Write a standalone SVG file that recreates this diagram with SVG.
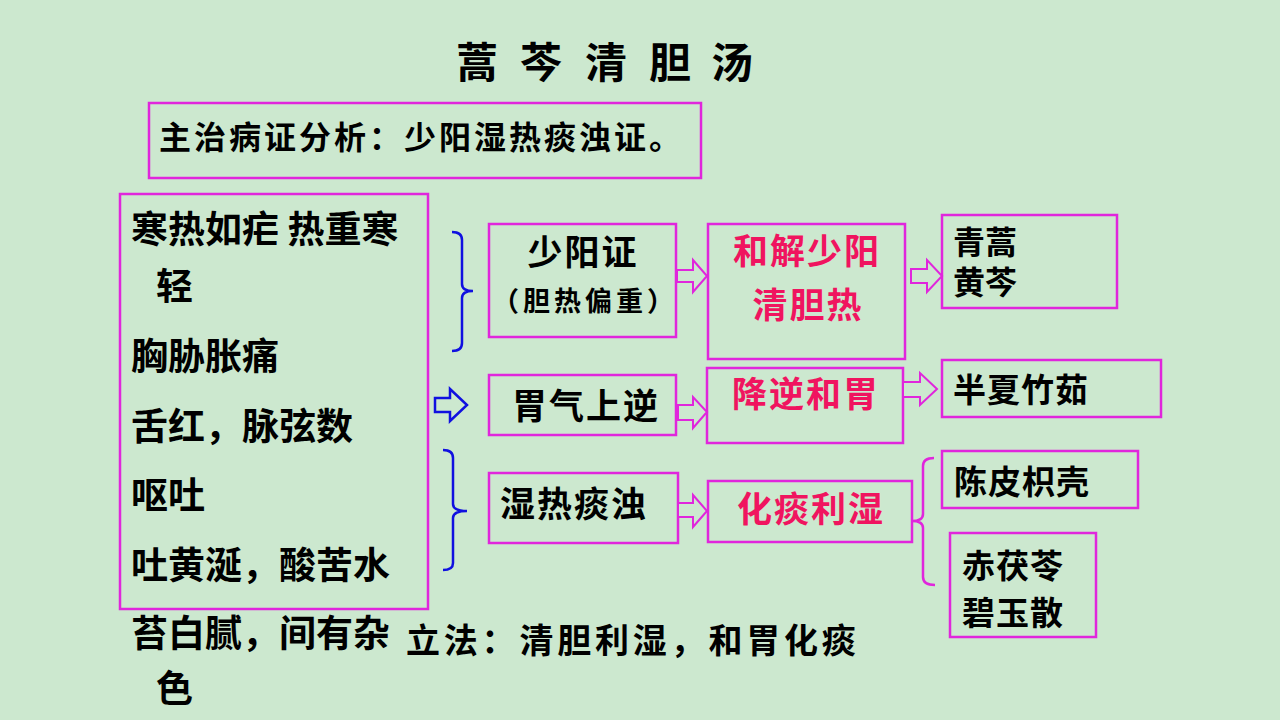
<svg xmlns="http://www.w3.org/2000/svg" width="1280" height="720" viewBox="0 0 1280 720">
<style>
.bg{fill:#cce8cf}
.box{fill:none;stroke:#e026dc;stroke-width:2.5}
.t{font-family:"Noto Sans CJK SC","Noto Sans CJK TC",sans-serif;font-weight:bold;fill:#000}
.r{fill:#f0145f}
.arw{fill:#cce8cf;stroke:#e026dc;stroke-width:2}
.barw{fill:#cce8cf;stroke:#1010e0;stroke-width:2.5}
.br{fill:none;stroke:#1010e0;stroke-width:2.5}
.brm{fill:none;stroke:#e026dc;stroke-width:2.5}
</style>
<rect class="bg" x="0" y="0" width="1280" height="720"/>
<g id="title">
<text class="t" font-size="42" y="78" x="456 0 520 0 585 0 649 0 711">蒿 芩 清 胆 汤</text>
</g>
<g id="main">
<rect class="box" x="149" y="103" width="552" height="75"/>
<text class="t" font-size="32" letter-spacing="3" x="159" y="149">主治病证分析：少阳湿热痰浊证。</text>
</g>
<g id="symptoms">
<rect class="box" x="120" y="194" width="308" height="415"/>
<text class="t" font-size="37" x="131" y="243">寒热如疟 热重寒</text>
<text class="t" font-size="37" x="156" y="300">轻</text>
<text class="t" font-size="37" x="131" y="370">胸胁胀痛</text>
<text class="t" font-size="37" x="131" y="440">舌红，脉弦数</text>
<text class="t" font-size="37" x="131" y="509">呕吐</text>
<text class="t" font-size="37" x="131" y="579">吐黄涎，酸苦水</text>
<text class="t" font-size="37" x="131" y="647">苔白腻，间有杂</text>
<text class="t" font-size="37" x="156" y="702">色</text>
</g>
<g id="lifa">
<text class="t" font-size="34" letter-spacing="3.8" x="406" y="653">立法：清胆利湿，和胃化痰</text>
</g>
<g id="shaoyang">
<rect class="box" x="489" y="224" width="187" height="113"/>
<text class="t" font-size="35" letter-spacing="2" x="583" y="265" text-anchor="middle">少阳证</text>
<text class="t" font-size="27" letter-spacing="4" x="585" y="311" text-anchor="middle">（胆热偏重）</text>
</g>
<g id="hejie">
<rect class="box" x="708" y="224" width="197" height="135"/>
<text class="t r" font-size="35" letter-spacing="2" x="807" y="264" text-anchor="middle">和解少阳</text>
<text class="t r" font-size="35" letter-spacing="2" x="808" y="318" text-anchor="middle">清胆热</text>
</g>
<g id="qinghao">
<rect class="box" x="942" y="215" width="175" height="93"/>
<text class="t" font-size="32" x="953" y="254">青蒿</text>
<text class="t" font-size="32" x="953" y="294">黄芩</text>
</g>
<g id="weiqi">
<rect class="box" x="489" y="375" width="187" height="60"/>
<text class="t" font-size="35" letter-spacing="2" x="512" y="419">胃气上逆</text>
</g>
<g id="jiangni">
<rect class="box" x="707" y="368" width="196" height="75"/>
<text class="t r" font-size="35" letter-spacing="2" x="732" y="407">降逆和胃</text>
</g>
<g id="banxia">
<rect class="box" x="942" y="360" width="219" height="57"/>
<text class="t" font-size="33" letter-spacing="1" x="953" y="402">半夏竹茹</text>
</g>
<g id="shire">
<rect class="box" x="489" y="473" width="189" height="70"/>
<text class="t" font-size="35" letter-spacing="2" x="500" y="517">湿热痰浊</text>
</g>
<g id="huatan">
<rect class="box" x="708" y="481" width="204" height="61"/>
<text class="t r" font-size="35" letter-spacing="2" x="737" y="522">化痰利湿</text>
</g>
<g id="chenpi">
<rect class="box" x="942" y="451" width="196" height="57"/>
<text class="t" font-size="33" letter-spacing="1" x="954" y="494">陈皮枳壳</text>
</g>
<g id="chifuling">
<rect class="box" x="950" y="533" width="146" height="104"/>
<text class="t" font-size="33" letter-spacing="1" x="962" y="578">赤茯苓</text>
<text class="t" font-size="33" letter-spacing="1" x="962" y="625">碧玉散</text>
</g>
<g id="connectors">
<path class="br" d="M452 232 Q462 232 462 240 L462 284 Q462 291 473 291 Q462 291 462 298 L462 343 Q462 351 452 351"/>
<path class="br" d="M443 450 Q453 450 453 458 L453 504 Q453 511 467 511 Q453 511 453 518 L453 563 Q453 570 443 570"/>
<path class="brm" d="M934 458 Q923 458 923 466 L923 514 Q923 521 912 521 Q923 521 923 528 L923 577 Q923 585 935 585"/>
<polygon class="barw" points="435,398 450,398 450,389 467,405 450,421 450,412 435,412"/>
<polygon class="arw" points="677,270 693,270 693,260 707,276 693,292 693,282 677,282"/>
<polygon class="arw" points="911,269 927,269 927,260 942,276 927,292 927,283 911,283"/>
<polygon class="arw" points="678,405 693,405 693,397 707,412 693,428 693,420 678,420"/>
<polygon class="arw" points="903,382 920,382 920,373 937,389 920,405 920,397 903,397"/>
<polygon class="arw" points="678,503 693,503 693,495 707,511 693,527 693,517 678,517"/>
</g>
</svg>
